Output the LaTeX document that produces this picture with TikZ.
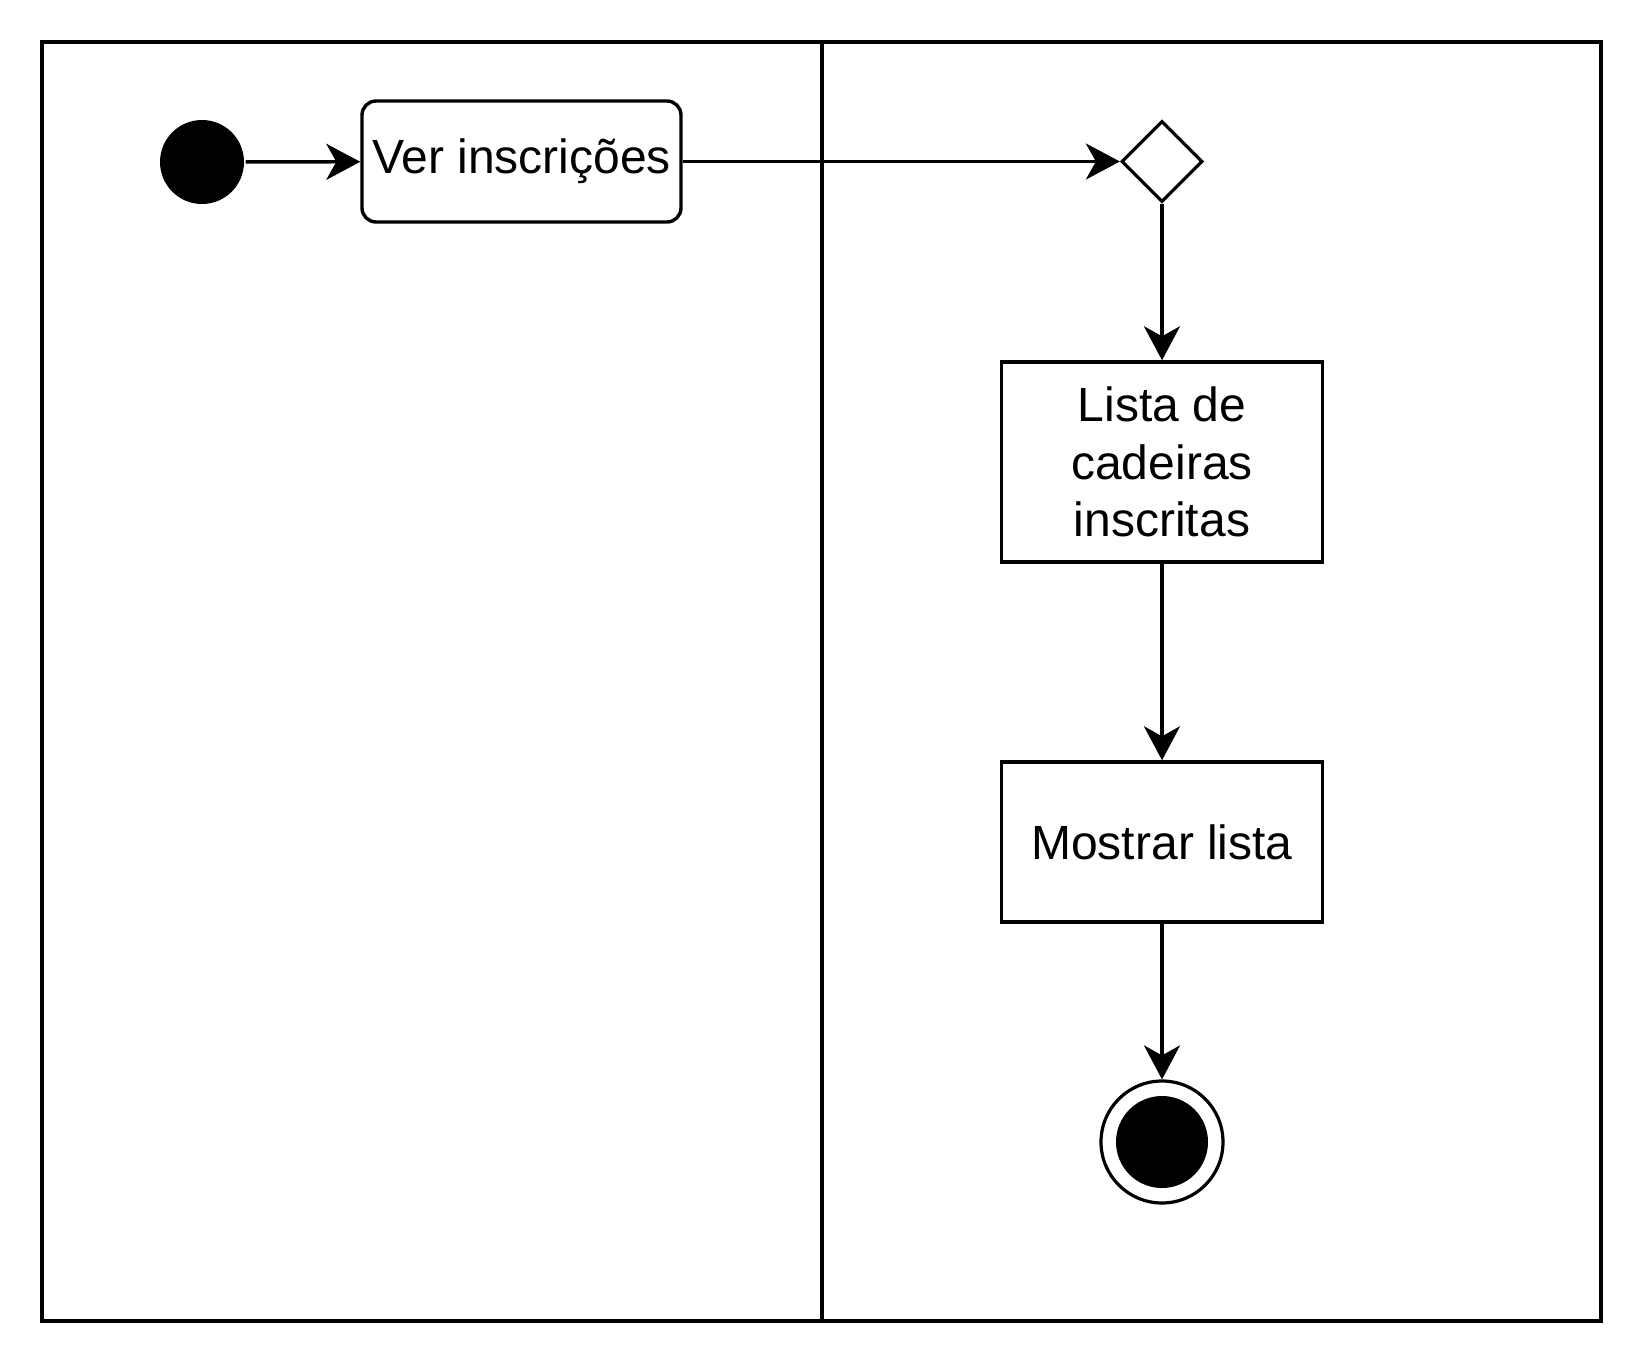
\documentclass[tikz,border=0pt]{standalone}
\usepackage{fontspec}
\setmainfont{Liberation Sans}
\usetikzlibrary{arrows.meta,shapes.geometric}
\begin{document}
\begin{tikzpicture}[x=1pt,y=-1pt,
  every node/.style={font=\fontsize{48}{57.5}\selectfont, line width=3.4pt, inner sep=0pt},
  conn/.style={line width=3.4pt, -{Stealth[length=34pt,width=36pt,inset=10pt]}},
  frame/.style={line width=3.6pt},
  actbox/.style={draw, rectangle, align=center},
  roundbox/.style={draw, rectangle, rounded corners=14pt, align=center},
  startdot/.style={circle, fill=black, minimum size=84pt},
  decbox/.style={draw, diamond, aspect=1, minimum width=81pt, minimum height=81pt, line width=3.2pt},
  enddot/.style={draw, circle, minimum size=122pt, line width=3.2pt}]
\useasboundingbox (0,0) rectangle (1644,1368);
\draw[frame] (42,42) rectangle (1601,1321);
\draw[frame] (822,42) -- (822,1321);
\node[startdot] (init) at (202,162) {};
\node[roundbox, minimum width=319pt, minimum height=121pt] (ver) at (521.5,161.5) {\raisebox{-3pt}{Ver inscrições}};
\node[decbox] (dec) at (1162,161.5) {};
\node[actbox, minimum width=321pt, minimum height=200pt] (lista) at (1162,462) {Lista de\\cadeiras\\inscritas};
\node[actbox, minimum width=321pt, minimum height=160pt] (mostrar) at (1162,842) {Mostrar lista};
\node[enddot] (final) at (1162,1142) {};
\fill (final.center) circle (46pt);
\draw[conn] (init) -- (ver);
\draw[conn] (ver) -- (dec);
\draw[conn] (dec) -- (lista);
\draw[conn] (lista) -- (mostrar);
\draw[conn] (mostrar) -- (final);
\end{tikzpicture}
\end{document}
